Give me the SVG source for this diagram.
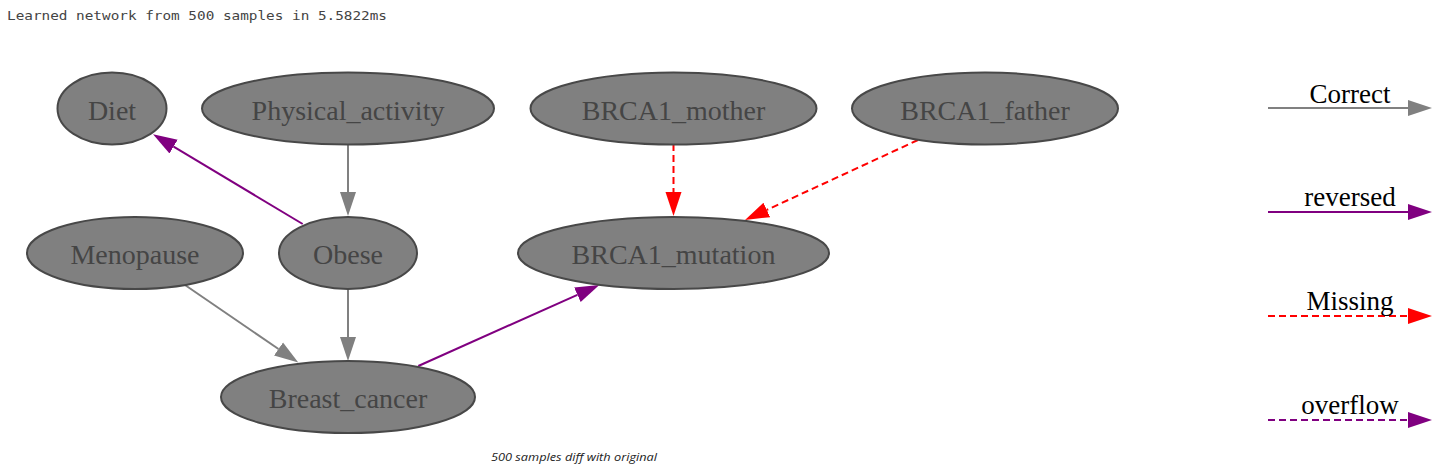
<svg xmlns="http://www.w3.org/2000/svg" width="1446" height="475" viewBox="0 0 1446 475">
<style>
.node ellipse{fill:#808080;stroke:#484848;stroke-width:2}
.node text{font-family:"Liberation Serif","Times New Roman",serif;font-size:28px;fill:#454545;text-anchor:middle}
.e{fill:none;stroke-width:2}
.g{stroke:#808080}
.p{stroke:#800080}
.r{stroke:#ff0000;stroke-dasharray:7,4}
.pd{stroke:#800080;stroke-dasharray:7,4}
.leg{font-family:"Liberation Serif","Times New Roman",serif;font-size:27px;fill:#000;text-anchor:middle}
</style>
<defs>
<marker id="ag" markerUnits="userSpaceOnUse" markerWidth="26" markerHeight="18" refX="0" refY="8" orient="auto" viewBox="0 0 26 16"><path d="M0,0 L24,8 L0,16 z" fill="#808080"/></marker>
<marker id="ap" markerUnits="userSpaceOnUse" markerWidth="26" markerHeight="18" refX="0" refY="8" orient="auto" viewBox="0 0 26 16"><path d="M0,0 L24,8 L0,16 z" fill="#800080"/></marker>
<marker id="ar" markerUnits="userSpaceOnUse" markerWidth="26" markerHeight="18" refX="0" refY="8" orient="auto" viewBox="0 0 26 16"><path d="M0,0 L24,8 L0,16 z" fill="#ff0000"/></marker>
</defs>
<rect width="1446" height="475" fill="#fff"/>
<text x="7" y="20" font-family="'DejaVu Sans Mono','Liberation Mono',monospace" font-size="13" fill="#444" textLength="380" lengthAdjust="spacingAndGlyphs">Learned network from 500 samples in 5.5822ms</text>
<g id="connectors">
<line class="e g" x1="348" y1="144" x2="348" y2="192" marker-end="url(#ag)"/>
<line class="e p" x1="302.7" y1="224" x2="173.6" y2="146.6" marker-end="url(#ap)"/>
<line class="e r" x1="673.5" y1="144" x2="673.5" y2="192" marker-end="url(#ar)"/>
<line class="e r" x1="918" y1="140" x2="766.8" y2="209.9" marker-end="url(#ar)"/>
<line class="e g" x1="348" y1="289" x2="348" y2="337" marker-end="url(#ag)"/>
<line class="e g" x1="185" y1="285" x2="278.5" y2="349" marker-end="url(#ag)"/>
<line class="e p" x1="418.3" y1="366" x2="577.4" y2="294.8" marker-end="url(#ap)"/>
</g>
<g id="Diet" class="node"><ellipse cx="112" cy="108.5" rx="54.5" ry="36"/><text x="112" y="119.5">Diet</text></g>
<g id="Physical_activity" class="node"><ellipse cx="348" cy="108.5" rx="146" ry="36"/><text x="348" y="119.5">Physical_activity</text></g>
<g id="BRCA1_mother" class="node"><ellipse cx="673.5" cy="108.5" rx="143" ry="36"/><text x="673.5" y="119.5">BRCA1_mother</text></g>
<g id="BRCA1_father" class="node"><ellipse cx="985" cy="108.5" rx="133" ry="36"/><text x="985" y="119.5">BRCA1_father</text></g>
<g id="Menopause" class="node"><ellipse cx="135" cy="253" rx="108" ry="36"/><text x="135" y="264">Menopause</text></g>
<g id="Obese" class="node"><ellipse cx="348" cy="253" rx="69" ry="36"/><text x="348" y="264">Obese</text></g>
<g id="BRCA1_mutation" class="node"><ellipse cx="673.5" cy="253" rx="155.5" ry="36"/><text x="673.5" y="264">BRCA1_mutation</text></g>
<g id="Breast_cancer" class="node"><ellipse cx="348" cy="397" rx="127" ry="36"/><text x="348" y="408">Breast_cancer</text></g>
<g id="legend">
<line class="e g" x1="1268" y1="108" x2="1408" y2="108" marker-end="url(#ag)"/>
<text class="leg" x="1350" y="103">Correct</text>
<line class="e p" x1="1268" y1="212" x2="1408" y2="212" marker-end="url(#ap)"/>
<text class="leg" x="1350" y="206">reversed</text>
<line class="e r" x1="1268" y1="316" x2="1408" y2="316" marker-end="url(#ar)"/>
<text class="leg" x="1350" y="310">Missing</text>
<line class="e pd" x1="1268" y1="420" x2="1408" y2="420" marker-end="url(#ap)"/>
<text class="leg" x="1350" y="414">overflow</text>
</g>
<text x="491" y="461" font-family="'Open Sans','DejaVu Sans',sans-serif" font-style="italic" font-size="11" fill="#222" textLength="166" lengthAdjust="spacingAndGlyphs">500 samples diff with original</text>
</svg>
